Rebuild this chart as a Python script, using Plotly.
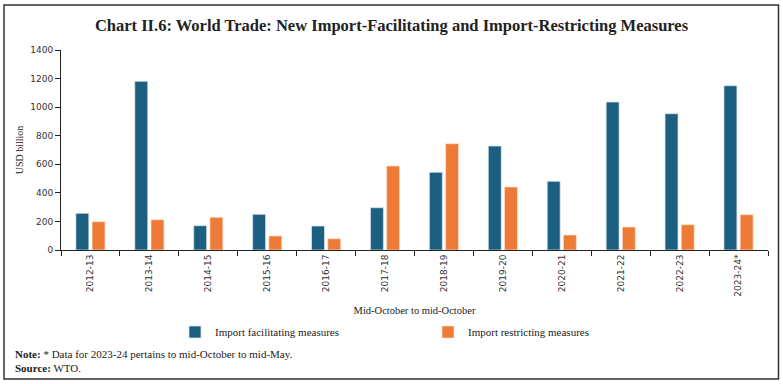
import plotly.graph_objects as go

categories = ["2012-13", "2013-14", "2014-15", "2015-16", "2016-17", "2017-18",
              "2018-19", "2019-20", "2020-21", "2021-22", "2022-23", "2023-24*"]
facilitating = [257, 1181, 170, 250, 168, 296, 544, 728, 481, 1036, 954, 1150]
restricting = [198, 212, 229, 98, 79, 588, 744, 441, 105, 161, 177, 247]

BLUE = "#1D5F80"
ORANGE = "#ED7A37"
SERIF = "Liberation Serif"
SANS = "DejaVu Sans"

fig = go.Figure()
fig.add_trace(go.Bar(x=categories, y=facilitating, name="Import facilitating measures",
                     marker=dict(color=BLUE, line=dict(color="rgba(220,230,240,0.9)", width=0.8)),
                     legend="legend"))
fig.add_trace(go.Bar(x=categories, y=restricting, name="Import restricting measures",
                     marker=dict(color=ORANGE, line=dict(color="rgba(255,225,205,0.9)", width=0.8)),
                     legend="legend2"))

L, R, T, B = 61, 15, 50, 134
W, H = 783, 384
pw, ph = W - L - R, H - T - B

def px(x):
    return (x - L) / pw

def py(y):
    return (H - B - y) / ph

fig.update_layout(
    width=W, height=H,
    margin=dict(l=L, r=R, t=T, b=B, autoexpand=False),
    paper_bgcolor="white", plot_bgcolor="white",
    barmode="group", bargap=0.45, bargroupgap=0.2,
    showlegend=True,
    title=dict(text="<b>Chart II.6: World Trade: New Import-Facilitating and Import-Restricting Measures</b>",
               x=0.5, xref="container", xanchor="center", y=1 - 25 / H, yanchor="middle",
               font=dict(family=SERIF, size=16.5, color="#222")),
    legend=dict(orientation="h", x=px(175), y=py(332), xanchor="left", yanchor="middle",
                font=dict(family=SERIF, size=11, color="#222"), bgcolor="rgba(0,0,0,0)"),
    legend2=dict(orientation="h", x=px(428), y=py(332), xanchor="left", yanchor="middle",
                 font=dict(family=SERIF, size=11, color="#222"), bgcolor="rgba(0,0,0,0)"),
    xaxis=dict(type="category", range=[-0.5, 11.5], tickson="boundaries",
               ticks="outside", ticklen=5, tickcolor="#222", showline=True, linecolor="#222",
               linewidth=1, tickangle=-90, tickfont=dict(family=SANS, size=9, color="#333"),
               showgrid=False,
               title=dict(text="Mid-October to mid-October", standoff=10,
                          font=dict(family=SERIF, size=10.5, color="#222"))),
    yaxis=dict(range=[0, 1400], dtick=200, ticks="outside", ticklen=5, tickcolor="#222",
               showline=True, linecolor="#222", linewidth=1, showgrid=False, zeroline=False,
               tickfont=dict(family=SANS, size=9, color="#333"),
               title=dict(text="USD billion", standoff=4,
                          font=dict(family=SERIF, size=10, color="#222"))),
)

fig.add_shape(type="rect", xref="paper", yref="paper",
              x0=px(4), x1=px(778.5), y0=py(379), y1=py(5),
              line=dict(color="#333", width=1.5), layer="above")

fig.add_annotation(xref="paper", yref="paper", x=px(13), y=py(354), xanchor="left", yanchor="middle",
                   showarrow=False, align="left",
                   text="<b>Note:</b> * Data for 2023-24 pertains to mid-October to mid-May.",
                   font=dict(family=SERIF, size=11, color="#222"))
fig.add_annotation(xref="paper", yref="paper", x=px(13), y=py(368), xanchor="left", yanchor="middle",
                   showarrow=False, align="left",
                   text="<b>Source:</b> WTO.",
                   font=dict(family=SERIF, size=11, color="#222"))

fig.write_html("out.html", config={"displayModeBar": False},
               post_script="document.body.style.margin='0';document.body.style.overflow='hidden';")
